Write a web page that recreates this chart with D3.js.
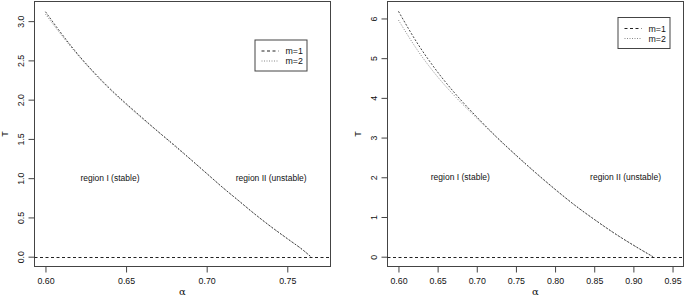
<!DOCTYPE html>
<html>
<head>
<meta charset="utf-8">
<script src="https://cdn.jsdelivr.net/npm/d3@7"></script>
<style>
  body { margin: 0; background: #fff; }
  svg { display: block; font-family: "Liberation Sans", Arial, Helvetica, sans-serif; }
</style>
</head>
<body>
<svg id="chart" width="685" height="299"></svg>
<script>
// left panel values (alpha, T)
const alphaLeft = [0.60, 0.61, 0.62, 0.63, 0.64, 0.65, 0.66, 0.67, 0.68, 0.69, 0.70, 0.71, 0.72, 0.73, 0.74, 0.75, 0.76, 0.7646];
const leftM1 = [3.12, 2.84, 2.58, 2.35, 2.14, 1.95, 1.77, 1.59, 1.42, 1.24, 1.06, 0.88, 0.71, 0.54, 0.38, 0.23, 0.08, 0.0];
const leftM2 = [3.09, 2.82, 2.57, 2.34, 2.13, 1.94, 1.76, 1.59, 1.41, 1.24, 1.06, 0.88, 0.71, 0.54, 0.38, 0.23, 0.08, 0.0];

// right panel values
const alphaRight = [0.600, 0.625, 0.650, 0.675, 0.700, 0.725, 0.750, 0.775, 0.800, 0.825, 0.850, 0.875, 0.900, 0.925];
const rightM1 = [6.18, 5.35, 4.65, 4.05, 3.52, 3.02, 2.56, 2.12, 1.70, 1.30, 0.94, 0.60, 0.29, 0.0];
const rightM2 = [5.96, 5.18, 4.53, 3.98, 3.49, 3.01, 2.55, 2.11, 1.69, 1.30, 0.94, 0.60, 0.29, 0.0];

const xTicksLeft = [0.60, 0.65, 0.70, 0.75];
const yTicksLeft = [0.0, 0.5, 1.0, 1.5, 2.0, 2.5, 3.0];
const xTicksRight = [0.60, 0.65, 0.70, 0.75, 0.80, 0.85, 0.90, 0.95];
const yTicksRight = [0, 1, 2, 3, 4, 5, 6];

const legendLabels = ["m=1", "m=2"];
const regionLabels = ["region I (stable)", "region II (unstable)"];

const svg = d3.select("#chart");

function drawPanel(p) {
  const x = d3.scaleLinear().domain(p.xDomain).range([p.left, p.right]);
  const y = d3.scaleLinear().domain(p.yDomain).range([266.5, 1.5]);
  const g = svg.append("g");

  // x axis ticks + labels
  const xa = g.append("g").attr("transform", "translate(0,266.5)")
    .call(d3.axisBottom(x).tickValues(p.xTicks).tickSize(6).tickPadding(5)
      .tickFormat(d3.format(".2f")));
  xa.select(".domain").remove();
  xa.selectAll("line").attr("stroke", "#444");
  xa.selectAll("text").attr("font-size", "8.8px").attr("fill", "#111")
    .attr("font-family", "Liberation Sans, Arial, sans-serif");

  // y axis, labels rotated like R
  const ya = g.append("g").attr("transform", `translate(${p.left},0)`)
    .call(d3.axisLeft(y).tickValues(p.yTicks).tickSize(6).tickFormat(p.yFormat));
  ya.select(".domain").remove();
  ya.selectAll("line").attr("stroke", "#444");
  ya.selectAll(".tick text")
    .attr("font-size", "8.8px").attr("fill", "#111")
    .attr("font-family", "Liberation Sans, Arial, sans-serif")
    .attr("x", null)
    .attr("text-anchor", "middle")
    .attr("transform", "translate(-14,0) rotate(-90)")
    .attr("dy", "0.35em");

  // box
  g.append("rect")
    .attr("x", p.left).attr("y", 1.5)
    .attr("width", p.right - p.left).attr("height", 265)
    .attr("fill", "none").attr("stroke", "#444").attr("stroke-width", 1);

  // axis titles
  g.append("text").attr("x", (p.left + p.right) / 2).attr("y", 295)
    .attr("text-anchor", "middle").attr("font-size", "10px").attr("fill", "#111")
    .attr("font-family", "DejaVu Serif, serif").text("α");
  g.append("text")
    .attr("transform", `translate(${p.left - 27},134) rotate(-90)`)
    .attr("text-anchor", "middle").attr("font-size", "9px").attr("fill", "#111").text("T");

  // zero line
  g.append("line")
    .attr("x1", p.left).attr("x2", p.right)
    .attr("y1", Math.round(y(0)) + 0.5).attr("y2", Math.round(y(0)) + 0.5)
    .attr("stroke", "#222").attr("stroke-dasharray", "3,2.5");

  const line = d3.line().x((d) => x(d[0])).y((d) => y(d[1])).curve(d3.curveMonotoneX);

  g.append("path").datum(p.alpha.map((a, i) => [a, p.m2[i]]))
    .attr("d", line).attr("fill", "none").attr("stroke", "#777")
    .attr("stroke-width", 0.9).attr("stroke-dasharray", "1,1.6");
  g.append("path").datum(p.alpha.map((a, i) => [a, p.m1[i]]))
    .attr("d", line).attr("fill", "none").attr("stroke", "#333")
    .attr("stroke-width", 0.9).attr("stroke-dasharray", "2,1.6");

  // region labels
  g.selectAll(".region").data(regionLabels).enter().append("text")
    .attr("x", (d, i) => x(p.regionX[i])).attr("y", y(p.regionY))
    .attr("dy", "0.35em").attr("text-anchor", "middle")
    .attr("font-size", "8.5px").attr("fill", "#111").text((d) => d);

  // legend
  const lg = g.append("g").attr("transform", `translate(${p.legX},${p.legY})`);
  lg.append("rect").attr("x", 0.5).attr("y", 0.5).attr("width", p.legW).attr("height", 31)
    .attr("fill", "#fff").attr("stroke", "#444");
  lg.selectAll(".ll").data(legendLabels).enter().append("line")
    .attr("x1", 7).attr("x2", 24)
    .attr("y1", (d, i) => 11.5 + i * 10).attr("y2", (d, i) => 11.5 + i * 10)
    .attr("stroke", (d, i) => (i === 0 ? "#222" : "#888"))
    .attr("stroke-dasharray", (d, i) => (i === 0 ? "3,2.5" : "1,1.5"));
  lg.selectAll(".lt").data(legendLabels).enter().append("text")
    .attr("x", 31).attr("y", (d, i) => 11.5 + i * 10).attr("dy", "0.35em")
    .attr("font-size", "8.8px").attr("fill", "#111").text((d) => d);
}

drawPanel({
  left: 34.5, right: 330.5,
  xDomain: [0.5932, 0.7768], yDomain: [-0.125, 3.25],
  xTicks: xTicksLeft, yTicks: yTicksLeft, yFormat: d3.format(".1f"),
  alpha: alphaLeft, m1: leftM1, m2: leftM2,
  regionX: [0.640, 0.740], regionY: 1.0,
  legX: 254.5, legY: 39.5, legW: 52
});

drawPanel({
  left: 387.5, right: 683.5,
  xDomain: [0.586, 0.964], yDomain: [-0.247, 6.427],
  xTicks: xTicksRight, yTicks: yTicksRight, yFormat: d3.format("d"),
  alpha: alphaRight, m1: rightM1, m2: rightM2,
  regionX: [0.679, 0.890], regionY: 2.0,
  legX: 617.5, legY: 17, legW: 52
});
</script>
</body>
</html>
